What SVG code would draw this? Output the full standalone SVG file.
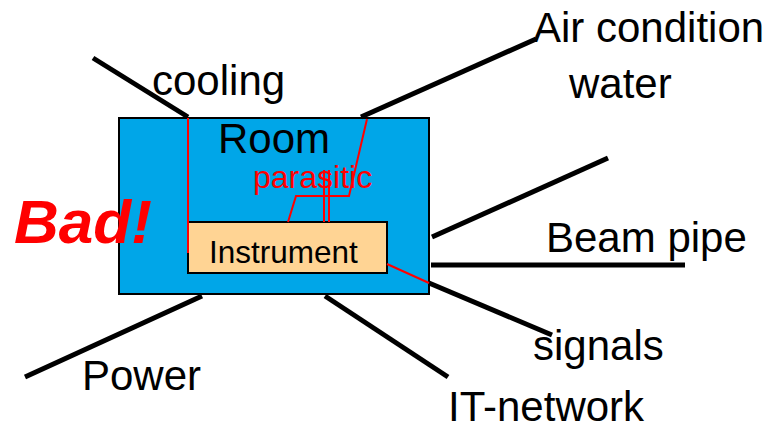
<svg xmlns="http://www.w3.org/2000/svg" width="769" height="430" viewBox="0 0 769 430">
<style>
text{font-family:"Liberation Sans",Arial,sans-serif;fill:#000}
.lbl{font-size:42px}
.blk{stroke:#000;stroke-width:5;fill:none}
.red{stroke:#ff0000;stroke-width:2;fill:none}
</style>
<rect width="769" height="430" fill="#fff"/>
<g id="room">
<rect x="119" y="118" width="310" height="176" fill="#00a6e8" stroke="#000" stroke-width="2"/>
<text class="lbl" x="218" y="153">Room</text>
</g>
<g id="instrument">
<rect x="188" y="222" width="199" height="51" fill="#ffd494" stroke="#000" stroke-width="2"/>
<text x="209" y="263" font-size="31.5">Instrument</text>
</g>
<g id="connectors">
<line class="blk" x1="93" y1="58" x2="188" y2="117"/>
<line class="blk" x1="361" y1="117" x2="536" y2="39"/>
<line class="blk" x1="432" y1="237" x2="608" y2="158"/>
<line class="blk" x1="431" y1="265" x2="685" y2="265"/>
<line class="blk" x1="429" y1="283" x2="552" y2="335"/>
<line class="blk" x1="202" y1="296" x2="25" y2="377"/>
<line class="blk" x1="325" y1="296" x2="448" y2="377"/>
<polyline class="red" points="188,118 188,253"/>
<polyline class="red" points="367,119 349,196 296,196 288,222"/>
<line class="red" x1="324" y1="170" x2="324" y2="222"/>
<line class="red" x1="329" y1="170" x2="329" y2="222"/>
<line class="red" x1="387" y1="264" x2="429" y2="283"/>
</g>
<g id="labels">
<text class="lbl" x="152" y="95">cooling</text>
<text class="lbl" x="533" y="42">Air condition</text>
<text class="lbl" x="569" y="98">water</text>
<text class="lbl" x="546" y="252">Beam pipe</text>
<text class="lbl" x="533" y="360">signals</text>
<text class="lbl" x="448" y="421">IT-network</text>
<text class="lbl" x="82" y="390">Power</text>
<text x="253" y="188" font-size="32" style="fill:#ff0000">parasitic</text>
<text x="14" y="243" font-size="62" font-weight="bold" font-style="italic" style="fill:#ff0000">Bad!</text>
</g>
</svg>
